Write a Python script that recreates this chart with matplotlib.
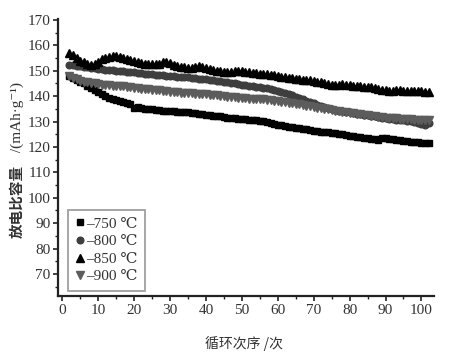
import matplotlib
matplotlib.use("Agg")
import matplotlib.pyplot as plt
from matplotlib.ticker import MultipleLocator

cycles = list(range(2, 103))

cap_750 = [148.0, 147.2, 146.5, 145.6, 145.0, 144.2, 143.2, 142.4, 141.6, 140.8,
           140.1, 139.4, 138.9, 138.5, 138.0, 137.6, 137.2, 136.8, 135.4, 135.6,
           135.3, 135.0, 134.9, 134.8, 134.6, 134.5, 134.3, 134.2, 134.1, 134.0,
           133.9, 133.9, 133.7, 133.6, 133.4, 133.3, 133.0, 132.9, 132.7, 132.4,
           132.2, 132.1, 132.0, 131.8, 131.6, 131.5, 131.3, 131.2, 131.0, 130.9,
           130.8, 130.6, 130.5, 130.3, 130.1, 129.9, 129.6, 129.2, 128.8, 128.5,
           128.2, 128.0, 127.8, 127.6, 127.4, 127.1, 126.9, 126.6, 126.4, 126.2,
           126.0, 125.9, 125.7, 125.5, 125.4, 125.3, 125.2, 124.6, 124.5, 124.3,
           124.0, 123.8, 123.6, 123.4, 123.2, 123.0, 122.9, 123.6, 123.5, 123.3,
           123.0, 122.9, 122.8, 122.5, 122.3, 122.1, 121.9, 121.8, 121.7, 121.6,
           121.5]

cap_800 = [152.3, 152.1, 151.9, 151.7, 151.5, 151.3, 151.1, 151.0, 150.8, 150.6,
           150.5, 150.3, 150.2, 150.0, 149.9, 149.8, 149.6, 149.5, 149.4, 149.2,
           149.1, 148.9, 148.8, 148.7, 148.5, 148.3, 148.2, 148.0, 147.9, 147.8,
           147.7, 147.6, 147.5, 147.4, 147.3, 147.1, 146.9, 146.8, 146.6, 146.5,
           146.3, 146.1, 145.9, 145.7, 145.4, 145.2, 145.0, 144.8, 144.6, 144.3,
           144.1, 143.9, 143.7, 143.5, 143.3, 143.1, 142.8, 142.4, 142.0, 141.6,
           141.2, 140.8, 140.3, 139.8, 139.3, 138.8, 138.3, 137.8, 137.2, 136.6,
           136.1, 135.6, 135.2, 134.8, 134.6, 134.3, 134.1, 133.9, 133.6, 133.4,
           133.1, 132.9, 132.6, 132.4, 132.2, 132.0, 131.8, 131.6, 131.4, 131.2,
           131.0, 130.8, 130.6, 130.5, 130.3, 130.1, 129.9, 129.6, 129.2, 128.7,
           129.6]

cap_850 = [157.0, 156.2, 155.0, 154.0, 153.3, 152.8, 152.4, 152.6, 153.6, 154.6,
           155.2, 155.6, 155.8, 155.7, 155.5, 155.1, 154.6, 154.2, 153.8, 153.4,
           153.0, 152.8, 152.7, 152.6, 152.5, 152.7, 153.4, 153.6, 153.0, 152.3,
           151.8, 151.6, 151.4, 151.2, 151.0, 151.4, 151.7, 151.5, 151.0, 150.6,
           150.3, 150.1, 149.9, 149.7, 149.6, 149.6, 149.9, 150.0, 149.8, 149.6,
           149.4, 149.2, 149.0, 148.9, 148.8, 148.6, 148.4, 148.2, 147.9, 147.6,
           147.4, 147.2, 147.0, 146.8, 146.6, 146.5, 146.4, 146.2, 146.0, 145.7,
           145.4, 145.1, 144.8, 144.5, 144.3, 144.5, 144.8, 144.6, 144.4, 144.2,
           144.1, 143.9, 143.8, 143.7, 143.6, 143.4, 143.0, 142.6, 142.3, 142.2,
           142.2, 142.3, 142.3, 142.2, 142.1, 142.0, 142.0, 141.9, 141.9, 141.8,
           141.8]

cap_900 = [148.0, 147.3, 146.6, 145.9, 145.6, 145.4, 145.2, 145.0, 144.8, 144.6,
           144.5, 144.3, 144.2, 144.1, 144.0, 143.9, 143.7, 143.5, 143.3, 143.1,
           142.9, 142.8, 142.7, 142.6, 142.5, 142.4, 142.2, 142.0, 141.8, 141.6,
           141.5, 141.4, 141.3, 141.2, 141.1, 141.0, 140.9, 140.8, 140.7, 140.6,
           140.5, 140.4, 140.2, 140.0, 139.8, 139.6, 139.5, 139.3, 139.2, 139.1,
           139.0, 138.9, 138.8, 138.8, 138.7, 138.6, 138.5, 138.3, 138.1, 137.9,
           137.7, 137.5, 137.3, 137.1, 136.8, 136.5, 136.2, 136.0, 135.7, 135.4,
           135.2, 135.0, 134.8, 134.5, 134.3, 134.1, 133.9, 133.7, 133.5, 133.3,
           133.1, 132.9, 132.7, 132.5, 132.3, 132.1, 131.9, 131.8, 131.6, 131.5,
           131.4, 131.3, 131.2, 131.1, 131.0, 130.9, 130.8, 130.8, 130.7, 130.6,
           130.5]

labels = ["–750 ℃", "–800 ℃", "–850 ℃", "–900 ℃"]
xticks = list(range(0, 101, 10))
yticks = list(range(70, 171, 10))

serif = ["Liberation Serif", "DejaVu Serif", "Noto Sans CJK SC"]

fig = plt.figure(figsize=(4.68, 3.61), dpi=100)
ax = fig.add_axes([58.3 / 468, 65 / 361, 375.7 / 468, 277 / 361])

series = [
    (cap_750, "s", "#000000", 4.6),
    (cap_800, "o", "#3e3e3e", 4.8),
    (cap_850, "^", "#000000", 5.4),
    (cap_900, "v", "#5c5c5c", 5.4),
]
for (vals, mk, col, ms), lab in zip(series, labels):
    ax.plot(cycles, vals, linestyle="none", marker=mk, color=col, ms=ms,
            mec=col, mfc=col, label=lab)

ax.set_xlim(-1.1, 103.5)
ax.set_ylim(61.3, 170.4)
ax.set_xticks(xticks)
ax.set_yticks(yticks)
ax.xaxis.set_minor_locator(MultipleLocator(5))
ax.yaxis.set_minor_locator(MultipleLocator(5))

for s in ["top", "right"]:
    ax.spines[s].set_visible(False)
for s in ["left", "bottom"]:
    ax.spines[s].set_linewidth(1.6)
    ax.spines[s].set_color("#222222")

ax.tick_params(axis="both", which="major", direction="out", length=3.5,
               width=1.2, colors="#222222", labelsize=11, pad=2)
ax.tick_params(axis="both", which="minor", direction="out", length=2,
               width=1.0, colors="#222222")
for t in ax.get_xticklabels() + ax.get_yticklabels():
    t.set_family(serif)
    t.set_color("#333333")

leg = ax.legend(loc="lower left", bbox_to_anchor=(0.026, 0.018),
                borderaxespad=0, frameon=True, fancybox=False,
                handlelength=0.6, handletextpad=0.1, labelspacing=0.25,
                borderpad=0.5, prop={"family": serif, "size": 11})
leg.get_frame().set_edgecolor("#888888")
leg.get_frame().set_linewidth(1.3)
for t in leg.get_texts():
    t.set_color("#333333")

# axis labels
fig.text(244 / 468, 1 - 343 / 361, "循环次序 /次", ha="center", va="center",
         family=["Noto Sans CJK SC", "DejaVu Sans"], fontsize=10,
         color="#333333")
fig.text(17 / 468, 1 - 238 / 361, "放电比容量", rotation=90,
         rotation_mode="anchor", ha="left", va="center",
         family=["Noto Sans CJK SC", "DejaVu Sans"], fontsize=10.5,
         fontweight="bold", color="#333333")
fig.text(17 / 468, 1 - 156 / 361, " /(mAh·g⁻¹)", rotation=90,
         rotation_mode="anchor", ha="left", va="center",
         family=serif, fontsize=11, color="#333333")

fig.savefig("out.png", dpi=100)
